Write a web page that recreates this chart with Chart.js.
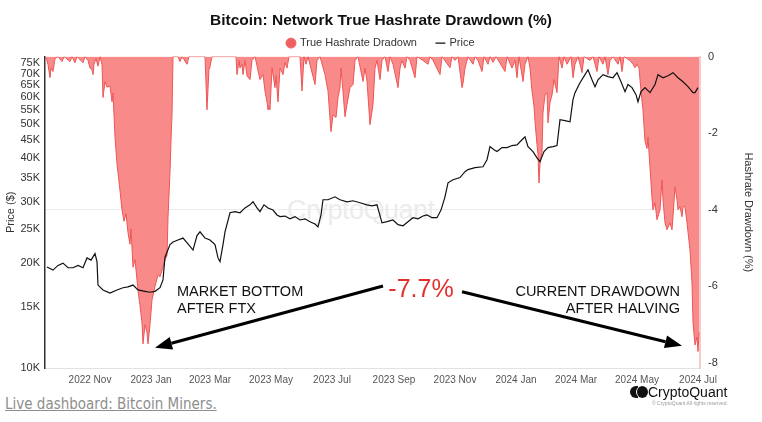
<!DOCTYPE html>
<html>
<head>
<meta charset="utf-8">
<script src="https://cdn.jsdelivr.net/npm/chart.js@4.4.1/dist/chart.umd.min.js"></script>
<style>
  body { margin: 0; background: #fff; width: 762px; height: 422px; overflow: hidden; position: relative; font-family: "Liberation Sans", Arial, sans-serif; }
  #wrap { position: absolute; left: 0; top: 0; width: 762px; height: 392px; z-index: 2; }
  #mark { position: absolute; left: 287px; top: 195px; font-size: 27px; color: #ececec; z-index: 1; letter-spacing: -0.5px; }
  #logo { position: absolute; left: 630px; top: 384px; z-index: 3; color: #111; }
  #logo .txt { font-size: 14px; position: absolute; left: 18px; top: 0; white-space: nowrap; }
  #logo .dot1 { position: absolute; left: 0; top: 2px; width: 8px; height: 12px; border-radius: 6px 0 0 6px; background: #111; }
  #logo .dot2 { position: absolute; left: 6px; top: 2px; width: 12px; height: 12px; border-radius: 6px; background: #111; border-left: 1.5px solid #fff; box-sizing: border-box; }
  #logo .copy { position: absolute; left: 22px; top: 16px; font-size: 5px; color: #999; white-space: nowrap; }
  #link { position: absolute; left: 5px; top: 395px; font-family: "Liberation Sans Narrow", "DejaVu Sans Condensed", sans-serif; font-size: 15px; color: #8e8e8e; text-decoration: underline; white-space: nowrap; }
</style>
</head>
<body>
<div id="mark">CryptoQuant</div>
<div id="wrap"><canvas id="chart"></canvas></div>
<div id="logo"><span class="dot1"></span><span class="dot2"></span><span class="txt">CryptoQuant</span><span class="copy">© CryptoQuant All rights reserved.</span></div>
<div id="link">Live dashboard: Bitcoin Miners.</div>
<script>
// day numbers count from this date
const START = '2022-09-15';

const tickDates = ['2022-11-01', '2023-01-01', '2023-03-01', '2023-05-01', '2023-07-01', '2023-09-01',
                   '2023-11-01', '2024-01-01', '2024-03-01', '2024-05-01', '2024-07-01'];
const tickLabels = ['2022 Nov', '2023 Jan', '2023 Mar', '2023 May', '2023 Jul', '2023 Sep',
                    '2023 Nov', '2024 Jan', '2024 Mar', '2024 May', '2024 Jul'];
const priceTicks = [10000, 15000, 20000, 25000, 30000, 35000, 40000, 45000, 50000, 55000, 60000, 65000, 70000, 75000];
const ddTicks = [0, -2, -4, -6, -8];

// true hashrate drawdown (%)
const ddDay = [2, 4, 5, 7, 8, 10, 12, 15, 19, 21, 27, 29, 32, 34, 40, 42, 45, 47, 49, 50,
  51, 53, 55, 57, 59, 60, 62, 64, 65, 67, 69, 70, 72, 74, 77, 79, 81, 83, 85, 87,
  88, 90, 92, 95, 97, 99, 100, 102, 104, 105, 107, 109, 112, 115, 117, 120, 122, 124, 125, 127,
  128, 129, 130, 135, 137, 139, 144, 146, 162, 164, 166, 167, 169, 193, 194, 196, 197, 199, 200, 202,
  204, 207, 209, 212, 217, 220, 222, 224, 225, 226, 227, 229, 232, 233, 235, 237, 240, 242, 244, 246,
  257, 259, 261, 263, 265, 270, 272, 274, 277, 282, 285, 288, 290, 293, 295, 297, 298, 300, 302, 304,
  307, 310, 312, 315, 320, 322, 324, 327, 330, 332, 334, 337, 339, 342, 345, 347, 350, 355, 357, 359,
  362, 364, 367, 372, 374, 380, 385, 387, 390, 397, 399, 407, 409, 412, 415, 418, 419, 420, 422, 425,
  430, 432, 435, 439, 441, 445, 447, 450, 453, 462, 464, 469, 472, 474, 476, 480, 482, 485, 487, 489,
  491, 492, 494, 495, 496, 497, 499, 500, 502, 504, 505, 507, 509, 511, 514, 516, 519, 521, 524, 528,
  530, 532, 535, 537, 539, 541, 547, 550, 554, 556, 560, 562, 565, 567, 570, 575, 577, 579, 581, 587,
  590, 592, 594, 596, 598, 600, 602, 604, 605, 607, 609, 610, 612, 614, 617, 619, 620, 622, 624, 627,
  629, 630, 632, 634, 635, 637, 639, 640, 642, 644, 647, 649, 650, 652, 654, 655, 656];
const ddVal = [0, -0.1, -0.21, -0.55, -0.3, -0.39, -0.05, 0, -0.13, 0, -0.13, 0, -0.16, 0, -0.16, 0, -0.1, -0.3, -0.34, -0.47,
  -0.2, -0.05, -0.25, 0, -0.2, -1.07, -0.65, -0.8, -0.78, -0.78, -1.18, -0.95, -2.1, -2.8, -3.5, -4.0, -4.3, -4.1, -4.6, -4.9,
  -4.5, -5.5, -5.3, -6.1, -6.5, -6.95, -7.5, -7.0, -7.2, -7.5, -7.0, -6.35, -6.0, -5.7, -5.75, -5.5, -5.3, -5.2, -4.2, -3.0,
  -2.2, -1.5, 0, 0, -0.13, 0, -0.2, 0, 0, -1.39, -0.3, -0.25, 0, 0, -0.47, -0.1, -0.3, -0.2, -0.47, -0.1,
  -0.5, -0.6, -0.1, 0, -0.6, -0.47, -0.9, -1.18, -1.39, -1.3, -1.39, -0.29, -0.81, -0.5, -1.18, -0.3, -0.47, -0.15, -0.3, 0,
  0, -0.9, 0, -0.2, 0, -0.52, -0.73, -0.1, 0, -0.47, -0.9, -1.96, -1.52, -1.59, -1.07, -0.8, -0.3, -0.92, -1.57, -1.25,
  -0.81, -0.73, -0.1, 0, -0.65, -0.3, -0.65, -1.78, -1.25, -0.3, -0.1, -0.6, -0.1, 0, -0.39, 0, -0.2, -0.81, -0.3, -0.1,
  -0.3, 0, -0.1, -0.55, 0, -0.1, -0.2, 0, -0.1, -0.47, 0, -0.29, 0, -0.1, 0, -0.6, -0.81, -0.7, -0.3, 0,
  -0.2, 0, -0.1, -0.39, 0, -0.2, 0, -0.15, 0, -0.39, 0, -0.3, -0.1, -0.55, 0, -0.65, -0.2, 0, -0.3, -0.9,
  -1.3, -1.7, -2.3, -2.56, -3.3, -2.8, -2.5, -1.46, -1.0, -0.94, -1.73, -1.2, -1.0, -0.6, -0.94, 0, -0.3, 0, -0.2, 0,
  -0.55, -0.2, 0, -0.2, -0.42, 0, -0.1, 0, -0.39, 0, -0.2, 0, -0.47, -0.1, 0, -0.2, 0, -0.39, 0, -0.1,
  -0.2, -0.29, -0.2, -0.3, -0.9, -1.4, -2.2, -2.4, -2.1, -2.9, -3.7, -4.0, -3.82, -4.26, -4.0, -3.22, -3.74, -4.34, -4.52, -4.34,
  -4.52, -4.18, -3.4, -3.74, -4.0, -3.92, -4.18, -3.92, -3.92, -4.34, -5.05, -5.91, -6.95, -7.53, -7.32, -7.7, -7.2];

// BTC price ($)
const priceDay = [4, 10, 15, 20, 25, 30, 35, 40, 44, 48, 52, 54, 55, 60, 67, 74, 80, 85, 90, 95,
  102, 107, 112, 117, 120, 122, 127, 130, 135, 140, 145, 150, 154, 157, 162, 167, 172, 175, 177, 180,
  182, 187, 192, 197, 202, 207, 210, 214, 217, 221, 225, 230, 234, 237, 242, 247, 252, 257, 262, 267,
  272, 275, 278, 280, 285, 292, 297, 304, 310, 317, 324, 329, 334, 339, 344, 350, 355, 360, 365, 370,
  375, 380, 384, 389, 394, 398, 402, 405, 410, 417, 422, 425, 432, 440, 444, 447, 451, 454, 459, 464,
  469, 474, 479, 482, 485, 490, 494, 497, 501, 505, 510, 514, 517, 522, 527, 530, 532, 537, 542, 545,
  549, 552, 555, 560, 565, 570, 574, 578, 582, 585, 589, 593, 595, 598, 602, 607, 612, 615, 620, 625,
  630, 635, 640, 645, 650, 652, 655];
const priceVal = [19500, 19100, 19700, 20000, 19400, 19400, 19700, 19400, 20700, 20400, 21300, 20200, 17300, 16750, 16400, 16750, 17000, 17100, 17300, 16750,
  16600, 16500, 16600, 17000, 17900, 20800, 22600, 23000, 23300, 23600, 22700, 21800, 24000, 24600, 23600, 23300, 22600, 20700, 20200, 22600,
  24600, 27900, 28100, 27900, 28800, 29400, 30000, 28800, 28100, 29400, 28800, 28400, 27500, 27200, 27300, 26800, 27200, 26600, 26800, 26300,
  25900, 25400, 27500, 30400, 30400, 31000, 30400, 30000, 30200, 29800, 29400, 29200, 29400, 26100, 26300, 26600, 25800, 25600, 26300, 27000,
  26800, 27300, 27500, 27000, 27000, 28400, 31000, 34000, 34700, 35200, 36600, 37100, 37600, 37800, 39600, 43200, 42300, 41800, 42900, 42900,
  43500, 43700, 45200, 46100, 43200, 41800, 40100, 39100, 41800, 42900, 43200, 43500, 51600, 51300, 50900, 58900, 61700, 65900, 69500, 71800,
  67200, 64200, 67200, 69500, 68600, 68100, 70400, 66300, 62100, 65100, 63800, 60900, 58100, 62100, 63800, 61700, 65100, 69500, 68100, 69000,
  70400, 68100, 66300, 64200, 61700, 61700, 63800];

// callouts, anchored on the day axis and the drawdown axis
const notes = [
  { text: 'MARKET BOTTOM', day: 134, dd: -6.14, align: 'left', size: 14.5, color: '#111' },
  { text: 'AFTER FTX', day: 134, dd: -6.59, align: 'left', size: 14.5, color: '#111' },
  { text: '-7.7%', day: 378, dd: -6.1, align: 'center', size: 25, color: '#e2302c' },
  { text: 'CURRENT DRAWDOWN', day: 637, dd: -6.14, align: 'right', size: 14.5, color: '#111' },
  { text: 'AFTER HALVING', day: 637, dd: -6.59, align: 'right', size: 14.5, color: '#111' }
];
const arrows = [
  { fromDay: 340, fromDd: -5.99, toDay: 112, toDd: -7.6 },
  { fromDay: 419, fromDd: -6.14, toDay: 639, toDd: -7.55 }
];

function dayOf(s) {
  return Math.round((Date.parse(s) - Date.parse(START)) / 86400000);
}
const tickDays = tickDates.map(dayOf);

// wide gap between legend items but a short legend box
const legendFit = {
  id: 'legendFit',
  beforeInit(chart) {
    const fit = chart.legend.fit;
    chart.legend.fit = function () {
      fit.call(this);
      this.height -= 2;
    };
  }
};

const calloutPlugin = {
  id: 'callouts',
  afterDatasetsDraw(chart) {
    const ctx = chart.ctx;
    const x = chart.scales.x;
    const y = chart.scales.yDD;
    ctx.save();
    ctx.strokeStyle = '#000';
    ctx.fillStyle = '#000';
    ctx.lineWidth = 3;
    arrows.forEach(a => {
      const x0 = x.getPixelForValue(a.fromDay), y0 = y.getPixelForValue(a.fromDd);
      const x1 = x.getPixelForValue(a.toDay), y1 = y.getPixelForValue(a.toDd);
      const ang = Math.atan2(y1 - y0, x1 - x0);
      const len = 17, half = 6.5;
      const bx = x1 - Math.cos(ang) * len, by = y1 - Math.sin(ang) * len;
      ctx.beginPath();
      ctx.moveTo(x0, y0);
      ctx.lineTo(bx, by);
      ctx.stroke();
      ctx.beginPath();
      ctx.moveTo(x1, y1);
      ctx.lineTo(bx + Math.sin(ang) * half, by - Math.cos(ang) * half);
      ctx.lineTo(bx - Math.sin(ang) * half, by + Math.cos(ang) * half);
      ctx.closePath();
      ctx.fill();
    });
    ctx.textBaseline = 'middle';
    notes.forEach(n => {
      ctx.font = n.size + 'px "Liberation Sans", Arial, sans-serif';
      ctx.fillStyle = n.color;
      ctx.textAlign = n.align;
      ctx.fillText(n.text, x.getPixelForValue(n.day), y.getPixelForValue(n.dd));
    });
    ctx.restore();
  }
};

const tickFont = { family: '"Liberation Sans", Arial, sans-serif', size: 11 };

new Chart(document.getElementById('chart'), {
  type: 'line',
  data: {
    datasets: [
      {
        label: 'True Hashrate Dradown',
        data: ddDay.map((d, i) => ({ x: d, y: ddVal[i] })),
        yAxisID: 'yDD',
        borderColor: '#ee5656',
        backgroundColor: '#f98a8a',
        borderWidth: 1,
        fill: 'origin',
        pointRadius: 0,
        pointStyle: 'circle',
        tension: 0,
        order: 1
      },
      {
        label: 'Price',
        data: priceDay.map((d, i) => ({ x: d, y: priceVal[i] })),
        yAxisID: 'yPrice',
        borderColor: '#111',
        backgroundColor: '#111',
        borderWidth: 1.2,
        fill: false,
        pointRadius: 0,
        pointStyle: 'line',
        tension: 0,
        order: 0
      }
    ]
  },
  options: {
    responsive: true,
    maintainAspectRatio: false,
    animation: false,
    layout: { padding: 0 },
    plugins: {
      title: {
        display: true,
        text: 'Bitcoin: Network True Hashrate Drawdown (%)',
        color: '#111',
        font: { family: '"Liberation Sans", Arial, sans-serif', size: 15.5, weight: 'bold' },
        padding: { top: 11, bottom: -12 }
      },
      legend: {
        display: true,
        labels: {
          usePointStyle: true,
          boxWidth: 7,
          boxHeight: 7,
          padding: 20,
          color: '#333',
          font: { family: '"Liberation Sans", Arial, sans-serif', size: 11 },
          sort: (a, b) => a.datasetIndex - b.datasetIndex,
          generateLabels: chart => {
            const items = Chart.defaults.plugins.legend.labels.generateLabels(chart);
            items.forEach(it => {
              if (it.datasetIndex === 0) { it.fillStyle = '#f06060'; it.strokeStyle = '#f06060'; }
            });
            return items;
          }
        }
      },
      tooltip: { enabled: false }
    },
    scales: {
      x: {
        type: 'linear',
        min: 2,
        max: 657,
        grid: { display: false, drawTicks: false },
        border: { color: '#e2e2e2' },
        afterBuildTicks: s => { s.ticks = tickDays.map(v => ({ value: v })); },
        afterFit: s => { s.height = 24; },
        ticks: {
          autoSkip: false,
          maxRotation: 0,
          padding: 6,
          color: '#555',
          font: { family: '"Liberation Sans", Arial, sans-serif', size: 10 },
          callback: (v, i) => tickLabels[i]
        }
      },
      yPrice: {
        type: 'logarithmic',
        position: 'left',
        min: 10000,
        max: 78300,
        grid: { display: false, drawTicks: false },
        border: { color: '#333', width: 1.5 },
        afterBuildTicks: s => { s.ticks = priceTicks.map(v => ({ value: v })); },
        afterFit: s => { s.width = 45; },
        title: { display: true, text: 'Price ($)', color: '#333', font: tickFont, padding: { top: 4, bottom: 0 } },
        ticks: {
          autoSkip: false,
          padding: 5,
          color: '#333',
          font: tickFont,
          callback: v => (v / 1000) + 'K'
        }
      },
      yDD: {
        type: 'linear',
        position: 'right',
        min: -8.13,
        max: 0,
        grid: {
          drawTicks: false,
          color: c => (c.tick && c.tick.value === -4 ? '#ececec' : 'rgba(0,0,0,0)')
        },
        border: { color: '#f6caca', width: 2 },
        afterBuildTicks: s => { s.ticks = ddTicks.map(v => ({ value: v })); },
        afterFit: s => { s.width = 62; },
        title: { display: true, text: 'Hashrate Drawdown (%)', color: '#333', font: tickFont, padding: { top: 7, bottom: 0 } },
        ticks: {
          autoSkip: false,
          padding: 8,
          color: '#333',
          font: tickFont
        }
      }
    }
  },
  plugins: [legendFit, calloutPlugin]
});
</script>
</body>
</html>
